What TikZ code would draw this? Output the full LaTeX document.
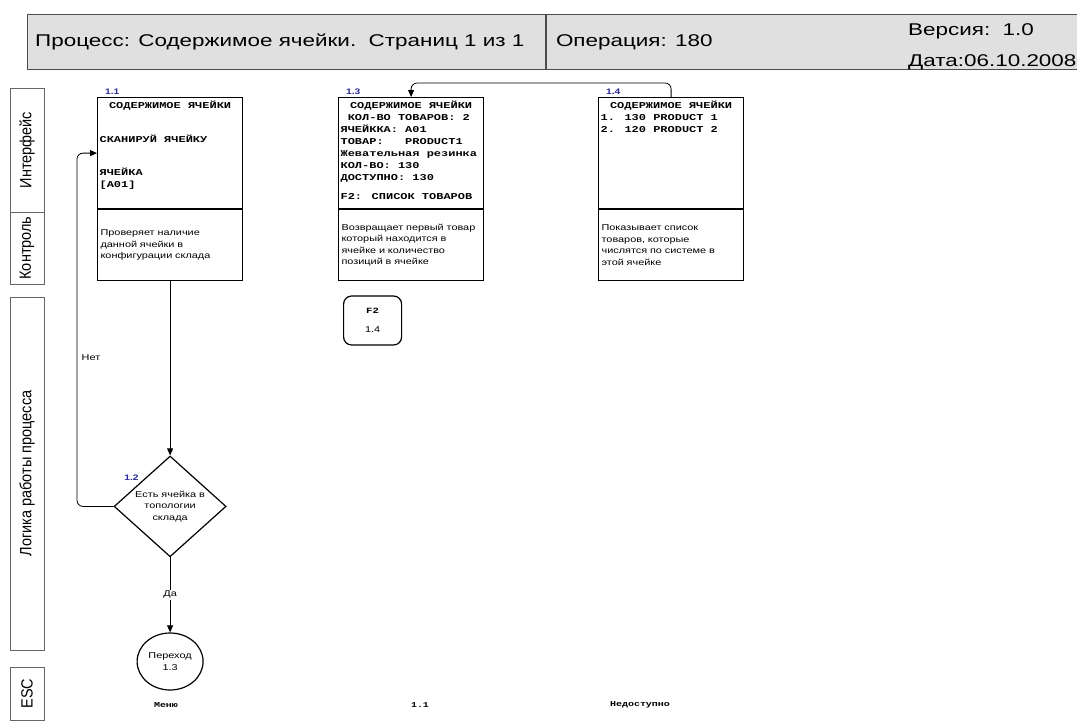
\documentclass[tikz,border=0pt]{standalone}
\usepackage{fontspec}
\usepackage{graphicx}
\setmainfont[FakeStretch=1.28]{Liberation Sans}
\newfontfamily\hdrfont[FakeStretch=1.32]{Liberation Sans}
\newfontfamily\scrfont[FakeStretch=1.33]{Liberation Mono}
\newfontfamily\lanefont{Liberation Sans}
\usetikzlibrary{arrows.meta,positioning,shapes.geometric,calc}
\definecolor{hdrgray}{RGB}{224,224,224}
\definecolor{numblue}{RGB}{40,40,150}
\newcommand{\lanetxt}[1]{\scalebox{1}[1.12]{#1}}

\begin{document}
\begin{tikzpicture}[
  x=1pt, y=-1pt,
  font=\fontsize{8.5}{11.5}\selectfont,
  hdrcell/.style={draw=black!70, fill=hdrgray, thick, anchor=north west, minimum height=55pt,
                  inner sep=0pt},
  hdrtxt/.style={font=\hdrfont\fontsize{17}{17}\selectfont, anchor=west, inner sep=0pt},
  lane/.style={draw=black!60, rotate=90, minimum height=34pt, inner sep=0pt,
               font=\lanefont\fontsize{14.5}{14.5}\selectfont},
  scrbox/.style={draw, line width=1.2pt, anchor=north west, minimum width=145pt, minimum height=111pt,
                 inner xsep=2pt, inner ysep=3pt, align=left,
                 font=\scrfont\bfseries\fontsize{9}{12}\selectfont},
  descbox/.style={draw, line width=1.2pt, minimum width=145pt, minimum height=71pt, inner xsep=3pt,
                  text width=139pt, align=left},
  num/.style={font=\bfseries\fontsize{8}{8}\selectfont, text=numblue, inner sep=0pt},
  escTxt/.style={font=\scrfont\bfseries\fontsize{7.5}{7.5}\selectfont},
  arr/.style={-{Triangle[length=7pt,width=6pt]}, thick}
]
\path[fill=white, use as bounding box] (0,0) rectangle (1077,724);

% header
\node[hdrcell, minimum width=518pt] (proc) at (27,14) {};
\node[hdrcell, minimum width=540pt, right=0pt of proc] (oper) {};
\node[hdrtxt] at ([xshift=8pt]proc.west) {Процесс: Содержимое ячейки.\ \ Страниц 1 из 1};
\node[hdrtxt] at ([xshift=10pt]oper.west) {Операция: 180};
\node[hdrtxt, anchor=base west] (ver) at (908,35) {Версия:\ \ 1.0};
\node[hdrtxt, anchor=base west] (date) at (908,66) {Дата:06.10.2008};

% swimlanes
\node[lane, minimum width=124pt] (lIntf) at (27,150) {\lanetxt{Интерфейс}};
\node[lane, minimum width=72pt] (lCtrl) at (27,248) {\lanetxt{Контроль}};
\node[lane, minimum width=353pt] (lLogic) at (27,473.5) {\lanetxt{Логика работы процесса}};
\node[lane, minimum width=53pt] (lEsc) at (27,693.5) {\lanetxt{ESC}};

% screens
\node[scrbox] (s11) at (97,97) {\parbox[c][105pt][t]{141pt}{%
  \centerline{СОДЕРЖИМОЕ ЯЧЕЙКИ}\vspace{22pt}
  СКАНИРУЙ ЯЧЕЙКУ\par\vspace{21pt}
  ЯЧЕЙКА\\\relax~[A01]}};
\node[scrbox] (s13) at (338,97) {\parbox[c][105pt][t]{141pt}{%
  \centerline{СОДЕРЖИМОЕ ЯЧЕЙКИ}
  ~КОЛ-ВО ТОВАРОВ: 2\\
  ЯЧЕЙККА: A01\\
  ТОВАР:~~~PRODUCT1\\
  Жевательная резинка\\
  КОЛ-ВО: 130\\
  ДОСТУПНО: 130\par\vspace{7pt}
  F2: СПИСОК ТОВАРОВ}};
\node[scrbox] (s14) at (598,97) {\parbox[c][105pt][t]{141pt}{%
  \centerline{СОДЕРЖИМОЕ ЯЧЕЙКИ}
  1. 130 PRODUCT 1\\
  2. 120 PRODUCT 2}};

\node[num, above right=2pt and 8pt of s11.north west] {1.1};
\node[num, above right=2pt and 8pt of s13.north west] {1.3};
\node[num, above right=2pt and 8pt of s14.north west] {1.4};

% descriptions
\node[descbox, below=0pt of s11] (c11) {Проверяет наличие\\данной ячейки в\\конфигурации склада};
\node[descbox, below=0pt of s13] (c13) {Возвращает первый товар\\который находится в\\ячейке и количество\\позиций в ячейке};
\node[descbox, below=0pt of s14] (c14) {Показывает список\\товаров, которые\\числятся по системе в\\этой ячейке};

% logic
\node[draw, line width=1.2pt, diamond, minimum width=112pt, minimum height=84pt, inner sep=0pt,
      align=center, below=174pt of c11] (d12) {Есть ячейка в\\топологии\\склада};
\node[num, above left=0pt and 3pt of d12.north west] {1.2};
\node[draw, line width=1.2pt, ellipse, minimum width=66pt, minimum height=57pt, inner sep=0pt,
      align=center, below=75pt of d12] (go13) {Переход\\1.3};
\node[draw, line width=1.2pt, rounded corners=8pt, minimum width=58pt, minimum height=49pt,
      align=center, below=14pt of c13.south west, anchor=north west, xshift=5pt] (f2)
      {{\scrfont\bfseries\fontsize{8}{8}\selectfont F2}\\[7pt]1.4};

% ESC row
\node[escTxt] (escMenu) at (166,705) {Меню};
\node[escTxt] (escBack) at (420,705) {1.1};
\node[escTxt] (escF2) at (640,705) {Недоступно};

% connectors
\draw[arr] (c11.south) -- (d12.north);
\draw[arr, rounded corners=6pt] (d12.west) -| node[pos=0.71, right=1pt]{Нет}
  ([xshift=-20pt]s11.west) -- (s11.west);
\draw[arr] (d12.south) -- node[fill=white, inner sep=1pt]{Да} (go13.north);
\draw[arr, rounded corners=6pt] (s14.north) -- ++(0,-14) -| (s13.north);
\end{tikzpicture}
\end{document}
